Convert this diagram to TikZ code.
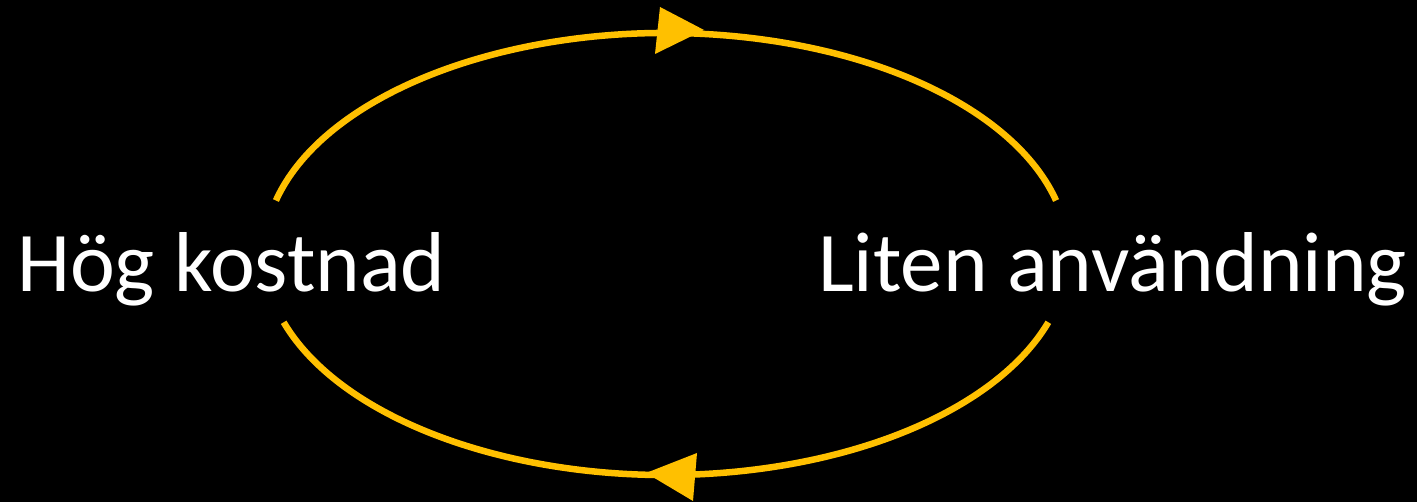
\documentclass[tikz,border=0pt]{standalone}
\usepackage{fontspec}
\setmainfont{Carlito}
\definecolor{gold}{HTML}{FFC000}
\begin{document}
\begin{tikzpicture}[x=1pt,y=1pt,
  loop/.style={draw=gold,line width=6.5pt},
  tip/.style={fill=gold},
  lbl/.style={text=white,inner sep=0pt,anchor=base west,font=\fontsize{85}{100}\selectfont}]
\fill[black] (0,0) rectangle (1417,502);
\useasboundingbox (0,0) rectangle (1417,502);
\coordinate (c) at (666,248);
\draw[loop] (c) ++(166:402 and 221) arc[start angle=166,end angle=14,x radius=402,y radius=221];
\draw[loop] (c) ++(198:402 and 221) arc[start angle=198,end angle=342,x radius=402,y radius=221];
\fill[tip] (660,495) -- (655,448) -- (704,472) -- cycle;
\fill[tip] (646,29) -- (697,49) -- (693,1) -- cycle;
\node[lbl] (hog) at (17,210) {Hög kostnad};
\node[lbl] (liten) at (818,210) {Liten användning};
\end{tikzpicture}
\end{document}
